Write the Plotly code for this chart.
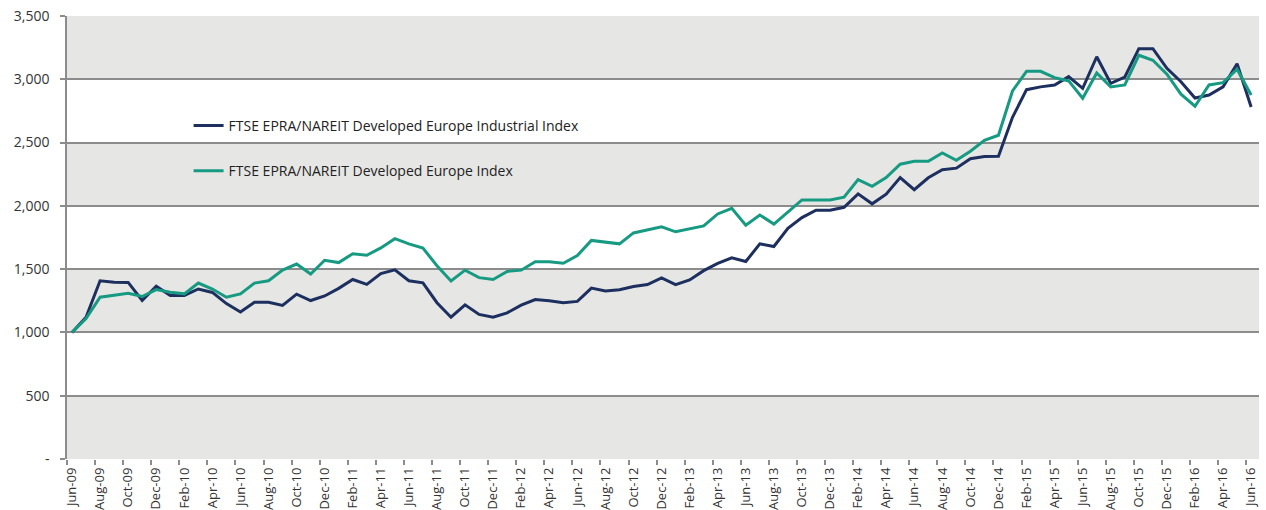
import plotly.graph_objects as go
import pandas as pd

months = pd.date_range("2009-06-01", "2016-06-01", freq="MS").strftime("%b-%y").tolist()

industrial = [1000, 1120, 1408, 1397, 1395, 1252, 1365, 1292, 1292, 1343,
              1316, 1228, 1162, 1239, 1239, 1213, 1302, 1252, 1288, 1348,
              1418, 1380, 1465, 1495, 1408, 1392, 1235, 1120, 1218, 1142,
              1120, 1155, 1215, 1260, 1250, 1235, 1245, 1350, 1328, 1338,
              1363, 1378, 1430, 1378, 1415, 1488, 1545, 1589, 1560, 1700,
              1679, 1822, 1907, 1966, 1966, 1989, 2095, 2016, 2092, 2224,
              2128, 2222, 2285, 2298, 2373, 2390, 2392, 2700, 2918, 2940,
              2955, 3021, 2928, 3178, 2968, 3018, 3242, 3242, 3087, 2981,
              2852, 2876, 2940, 3123, 2781]

europe = [1000, 1110, 1278, 1291, 1309, 1284, 1338, 1317, 1305, 1390,
          1343, 1278, 1304, 1390, 1408, 1492, 1540, 1461, 1570, 1552,
          1622, 1610, 1668, 1741, 1700, 1666, 1527, 1406, 1492, 1433,
          1418, 1482, 1492, 1559, 1559, 1546, 1607, 1727, 1714, 1700,
          1786, 1813, 1834, 1795, 1821, 1842, 1936, 1981, 1848, 1928,
          1856, 1954, 2047, 2047, 2047, 2068, 2208, 2155, 2224, 2329,
          2352, 2352, 2418, 2360, 2431, 2518, 2558, 2908, 3063, 3063,
          3013, 2987, 2850, 3050, 2940, 2955, 3190, 3150, 3040, 2882,
          2787, 2955, 2973, 3080, 2876]

y_ticks = [0, 500, 1000, 1500, 2000, 2500, 3000, 3500]
y_ticktext = ["-", "500", "1,000", "1,500", "2,000", "2,500", "3,000", "3,500"]
gray_bands = [(0, 500), (1000, 1500), (2000, 2500), (3000, 3500)]

NAVY = "#1c2f5e"
TEAL = "#179a82"
FONT = "Open Sans"

x = list(range(len(months)))

fig = go.Figure()
fig.add_trace(go.Scatter(x=x, y=industrial, mode="lines",
                         name="FTSE EPRA/NAREIT Developed Europe Industrial Index",
                         line=dict(color=NAVY, width=3), legend="legend"))
fig.add_trace(go.Scatter(x=x, y=europe, mode="lines",
                         name="FTSE EPRA/NAREIT Developed Europe Index",
                         line=dict(color=TEAL, width=3), legend="legend2"))

for lo, hi in gray_bands:
    fig.add_shape(type="rect", xref="paper", yref="y", x0=0, x1=1, y0=lo, y1=hi,
                  fillcolor="#e6e6e5", line=dict(width=0), layer="below")

legend_common = dict(bgcolor="rgba(0,0,0,0)", font=dict(family=FONT, size=14, color="#222222"),
                     xanchor="left", yanchor="middle", borderwidth=0)

fig.update_layout(
    width=1266, height=510,
    margin=dict(l=67, r=7, t=16, b=51, autoexpand=False),
    paper_bgcolor="white", plot_bgcolor="white",
    showlegend=True,
    legend=dict(x=0.102, y=0.752, **legend_common),
    legend2=dict(x=0.102, y=0.650, **legend_common),
    xaxis=dict(range=[-0.356, 84.56], tickvals=x[::2], ticktext=months[::2],
               tickangle=-90, ticks="", showgrid=False, zeroline=False,
               showline=False, automargin=False, ticklabelstandoff=5,
               tickfont=dict(family=FONT, size=13, color="#333333"),
               minor=dict(tick0=-0.356, dtick=2, ticks="outside", ticklen=5,
                          tickcolor="#8c8c8c", tickwidth=1.5, showgrid=False)),
    yaxis=dict(range=[0, 3500], tickvals=y_ticks, ticktext=y_ticktext,
               ticks="outside", ticklen=5, tickcolor="#8c8c8c", tickwidth=1.5,
               showgrid=True, gridcolor="#8c8c8c", gridwidth=1.5,
               zeroline=False, showline=True, linecolor="#8c8c8c", linewidth=1.5,
               automargin=False, ticklabelstandoff=8,
               tickfont=dict(family=FONT, size=14, color="#333333")),
)

fig.write_html("out.html", config={"displayModeBar": False},
               post_script="document.body.style.margin='0';document.body.style.overflow='hidden';")
